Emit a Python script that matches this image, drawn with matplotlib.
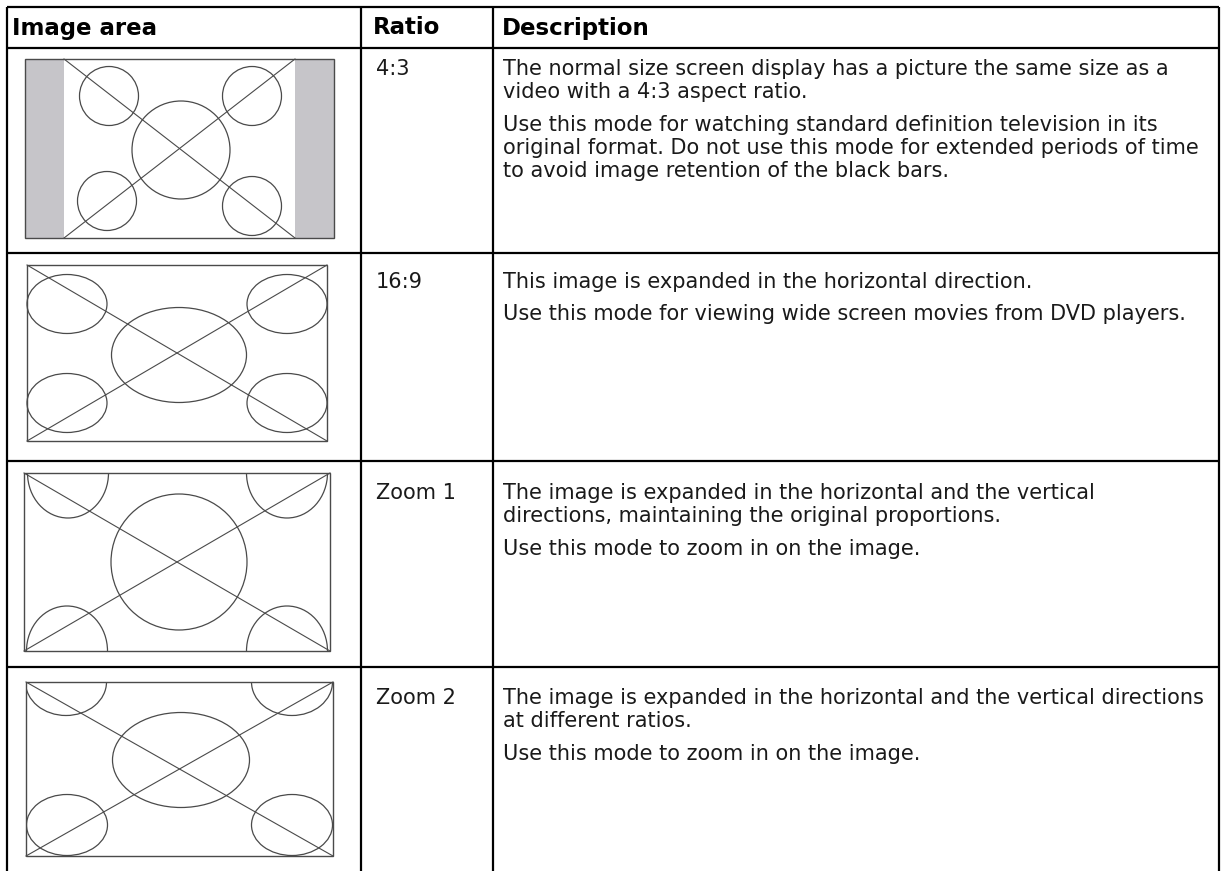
import matplotlib
matplotlib.use("Agg")
import matplotlib.pyplot as plt
from matplotlib.patches import Rectangle, Ellipse

# table contents
headers = ["Image area", "Ratio", "Description"]
ratios = ["4:3", "16:9", "Zoom 1", "Zoom 2"]
descriptions = [
    [["The normal size screen display has a picture the same size as a",
      "video with a 4:3 aspect ratio."],
     ["Use this mode for watching standard definition television in its",
      "original format. Do not use this mode for extended periods of time",
      "to avoid image retention of the black bars."]],
    [["This image is expanded in the horizontal direction."],
     ["Use this mode for viewing wide screen movies from DVD players."]],
    [["The image is expanded in the horizontal and the vertical",
      "directions, maintaining the original proportions."],
     ["Use this mode to zoom in on the image."]],
    [["The image is expanded in the horizontal and the vertical directions",
      "at different ratios."],
     ["Use this mode to zoom in on the image."]],
]

W, H = 1224, 871
fig = plt.figure(figsize=(W / 100, H / 100), dpi=100)
ax = fig.add_axes([0, 0, 1, 1])
ax.set_xlim(0, W)
ax.set_ylim(H, 0)
ax.axis("off")

BODY_FONT = "DejaVu Sans"
HEAD_FONT = "DejaVu Sans"
GRID = dict(color="black", lw=1.6, solid_capstyle="butt")
DRAW = "#4a4a4a"
TXT = "#1a1a1a"

# grid
row_lines = [7, 48, 253, 461, 667]
col_lines = [7, 361, 493, 1219]
for y in row_lines:
    ax.plot([col_lines[0], col_lines[-1]], [y, y], **GRID)
for x in col_lines:
    ax.plot([x, x], [row_lines[0], H], **GRID)

# header
head_x = [12, 373, 502]
for x, t in zip(head_x, headers):
    ax.text(x, 28, t, fontsize=16.5, fontweight="bold", family=HEAD_FONT,
            va="center", ha="left")

# ratio + description text
row_top = [69, 282, 493, 698]
line_h = 23.3
para_gap = 9
for i in range(4):
    ax.text(376, row_top[i], ratios[i], fontsize=15, family=BODY_FONT,
            color=TXT, va="center", ha="left")
    y = row_top[i]
    for para in descriptions[i]:
        for line in para:
            ax.text(503, y, line, fontsize=15, family=BODY_FONT,
                    color=TXT, va="center", ha="left")
            y += line_h
        y += para_gap


def frame(x0, y0, x1, y1):
    r = Rectangle((x0, y0), x1 - x0, y1 - y0, fill=False, ec=DRAW, lw=1.0)
    ax.add_patch(r)
    ax.plot([x0, x1], [y0, y1], color=DRAW, lw=0.8)
    ax.plot([x0, x1], [y1, y0], color=DRAW, lw=0.8)
    return r


def oval(cx, cy, w, h, clip=None):
    e = Ellipse((cx, cy), w, h, fill=False, ec=DRAW, lw=0.9)
    ax.add_patch(e)
    if clip is not None:
        e.set_clip_path(clip)


# row 1: 4:3 with side bars
ax.add_patch(Rectangle((25, 59), 39, 179, fc="#c6c5c9", ec="none"))
ax.add_patch(Rectangle((295, 59), 39, 179, fc="#c6c5c9", ec="none"))
ax.add_patch(Rectangle((25, 59), 309, 179, fill=False, ec=DRAW, lw=1.0))
ax.plot([64, 295], [59, 238], color=DRAW, lw=0.8)
ax.plot([64, 295], [238, 59], color=DRAW, lw=0.8)
for cx, cy in [(109, 96), (252, 96), (107, 201), (252, 206)]:
    oval(cx, cy, 59, 59)
oval(181, 150, 98, 98)

# row 2: 16:9
frame(27, 265, 327, 441)
for cx, cy in [(67, 304), (287, 304), (67, 403), (287, 403)]:
    oval(cx, cy, 80, 59)
oval(179, 355, 135, 95)

# row 3: zoom 1
r3 = frame(24, 473, 330, 651)
for cx, cy in [(68, 473), (287, 473), (67, 651), (287, 651)]:
    oval(cx, cy, 81, 90, clip=r3)
oval(179, 562, 136, 136)

# row 4: zoom 2
r4 = frame(26, 682, 333, 856)
for cx, cy in [(66, 682), (292, 682)]:
    oval(cx, cy, 81, 67, clip=r4)
for cx, cy in [(67, 825), (292, 825)]:
    oval(cx, cy, 81, 61, clip=r4)
oval(181, 760, 137, 95)

fig.savefig("out.png", dpi=100, facecolor="white")
